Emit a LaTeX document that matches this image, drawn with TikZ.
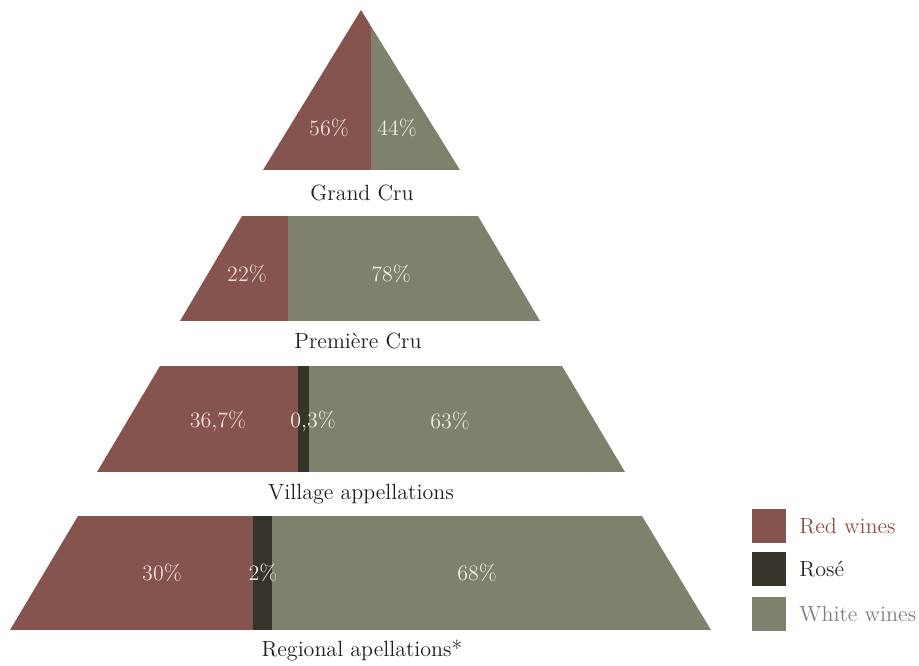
\documentclass[tikz,border=0pt]{standalone}
\usetikzlibrary{positioning}

\definecolor{redwine}{RGB}{134,84,79}
\definecolor{rosewine}{RGB}{54,51,42}
\definecolor{whitewine}{RGB}{128,129,108}
\definecolor{redtext}{RGB}{244,224,216}
\definecolor{whitetext}{RGB}{240,237,222}
\definecolor{keyred}{RGB}{140,78,74}
\definecolor{keywhite}{RGB}{128,129,116}

\begin{document}
\begin{tikzpicture}[x=0.5pt,y=-0.5pt,
    txt/.style={font=\fontsize{11}{13}\selectfont},
    onred/.style={txt,text=redtext},
    onwhite/.style={txt,text=whitetext},
    level/.style={txt,text=black!88},
    swatch/.style={minimum size=17pt,inner sep=0pt}]
   \useasboundingbox (0,0) rectangle (919,665);

   % Grand Cru
   \begin{scope}
   \clip (263,170) -- (361,10) -- (460,170) -- cycle;
   \fill[redwine] (250,0) rectangle (371,170);
   \fill[whitewine] (371,0) rectangle (470,170);
   \end{scope}
   \node[onred] (gc_red) at (329,128) {56\%};
   \node[onwhite] (gc_white) at (397,128) {44\%};
   \node[level] (gc) at (362,193) {Grand Cru};

   % Premiere Cru
   \begin{scope}
   \clip (180,321) -- (242,216) -- (478,216) -- (540,321) -- cycle;
   \fill[redwine] (170,216) rectangle (288,321);
   \fill[whitewine] (288,216) rectangle (550,321);
   \end{scope}
   \node[onred] (pc_red) at (247,274) {22\%};
   \node[onwhite] (pc_white) at (391,274) {78\%};
   \node[level] (pc) at (358,341) {Première Cru};

   % Village
   \begin{scope}
   \clip (97,472) -- (160,366) -- (562,366) -- (625,472) -- cycle;
   \fill[redwine] (90,366) rectangle (298,472);
   \fill[rosewine] (298,366) rectangle (309,472);
   \fill[whitewine] (309,366) rectangle (635,472);
   \end{scope}
   \node[onred] (va_red) at (218,421) {36,7\%};
   \node[onwhite] (va_rose) at (313,421) {0,3\%};
   \node[onwhite] (va_white) at (450,421) {63\%};
   \node[level] (va) at (361,494) {Village appellations};

   % Regional
   \begin{scope}
   \clip (10,630) -- (78,516) -- (642,516) -- (711,630) -- cycle;
   \fill[redwine] (0,516) rectangle (253,630);
   \fill[rosewine] (253,516) rectangle (272,630);
   \fill[whitewine] (272,516) rectangle (720,630);
   \end{scope}
   \node[onred] (re_red) at (162,573) {30\%};
   \node[onwhite] (re_rose) at (263,573) {2\%};
   \node[onwhite] (re_white) at (477,573) {68\%};
   \node[level] (re) at (362,650) {Regional apellations*};

   % legend
   \node[swatch,fill=redwine] (key_red) at (769,526) {};
   \node[swatch,fill=rosewine] (key_rose) at (769,569) {};
   \node[swatch,fill=whitewine] (key_white) at (769,614) {};
   \node[txt,text=keyred,right=3pt of key_red] (lbl_red) {Red wines};
   \node[txt,text=black!85,right=3pt of key_rose] (lbl_rose) {Rosé};
   \node[txt,text=keywhite,right=3pt of key_white] (lbl_white) {White wines};
\end{tikzpicture}
\end{document}
